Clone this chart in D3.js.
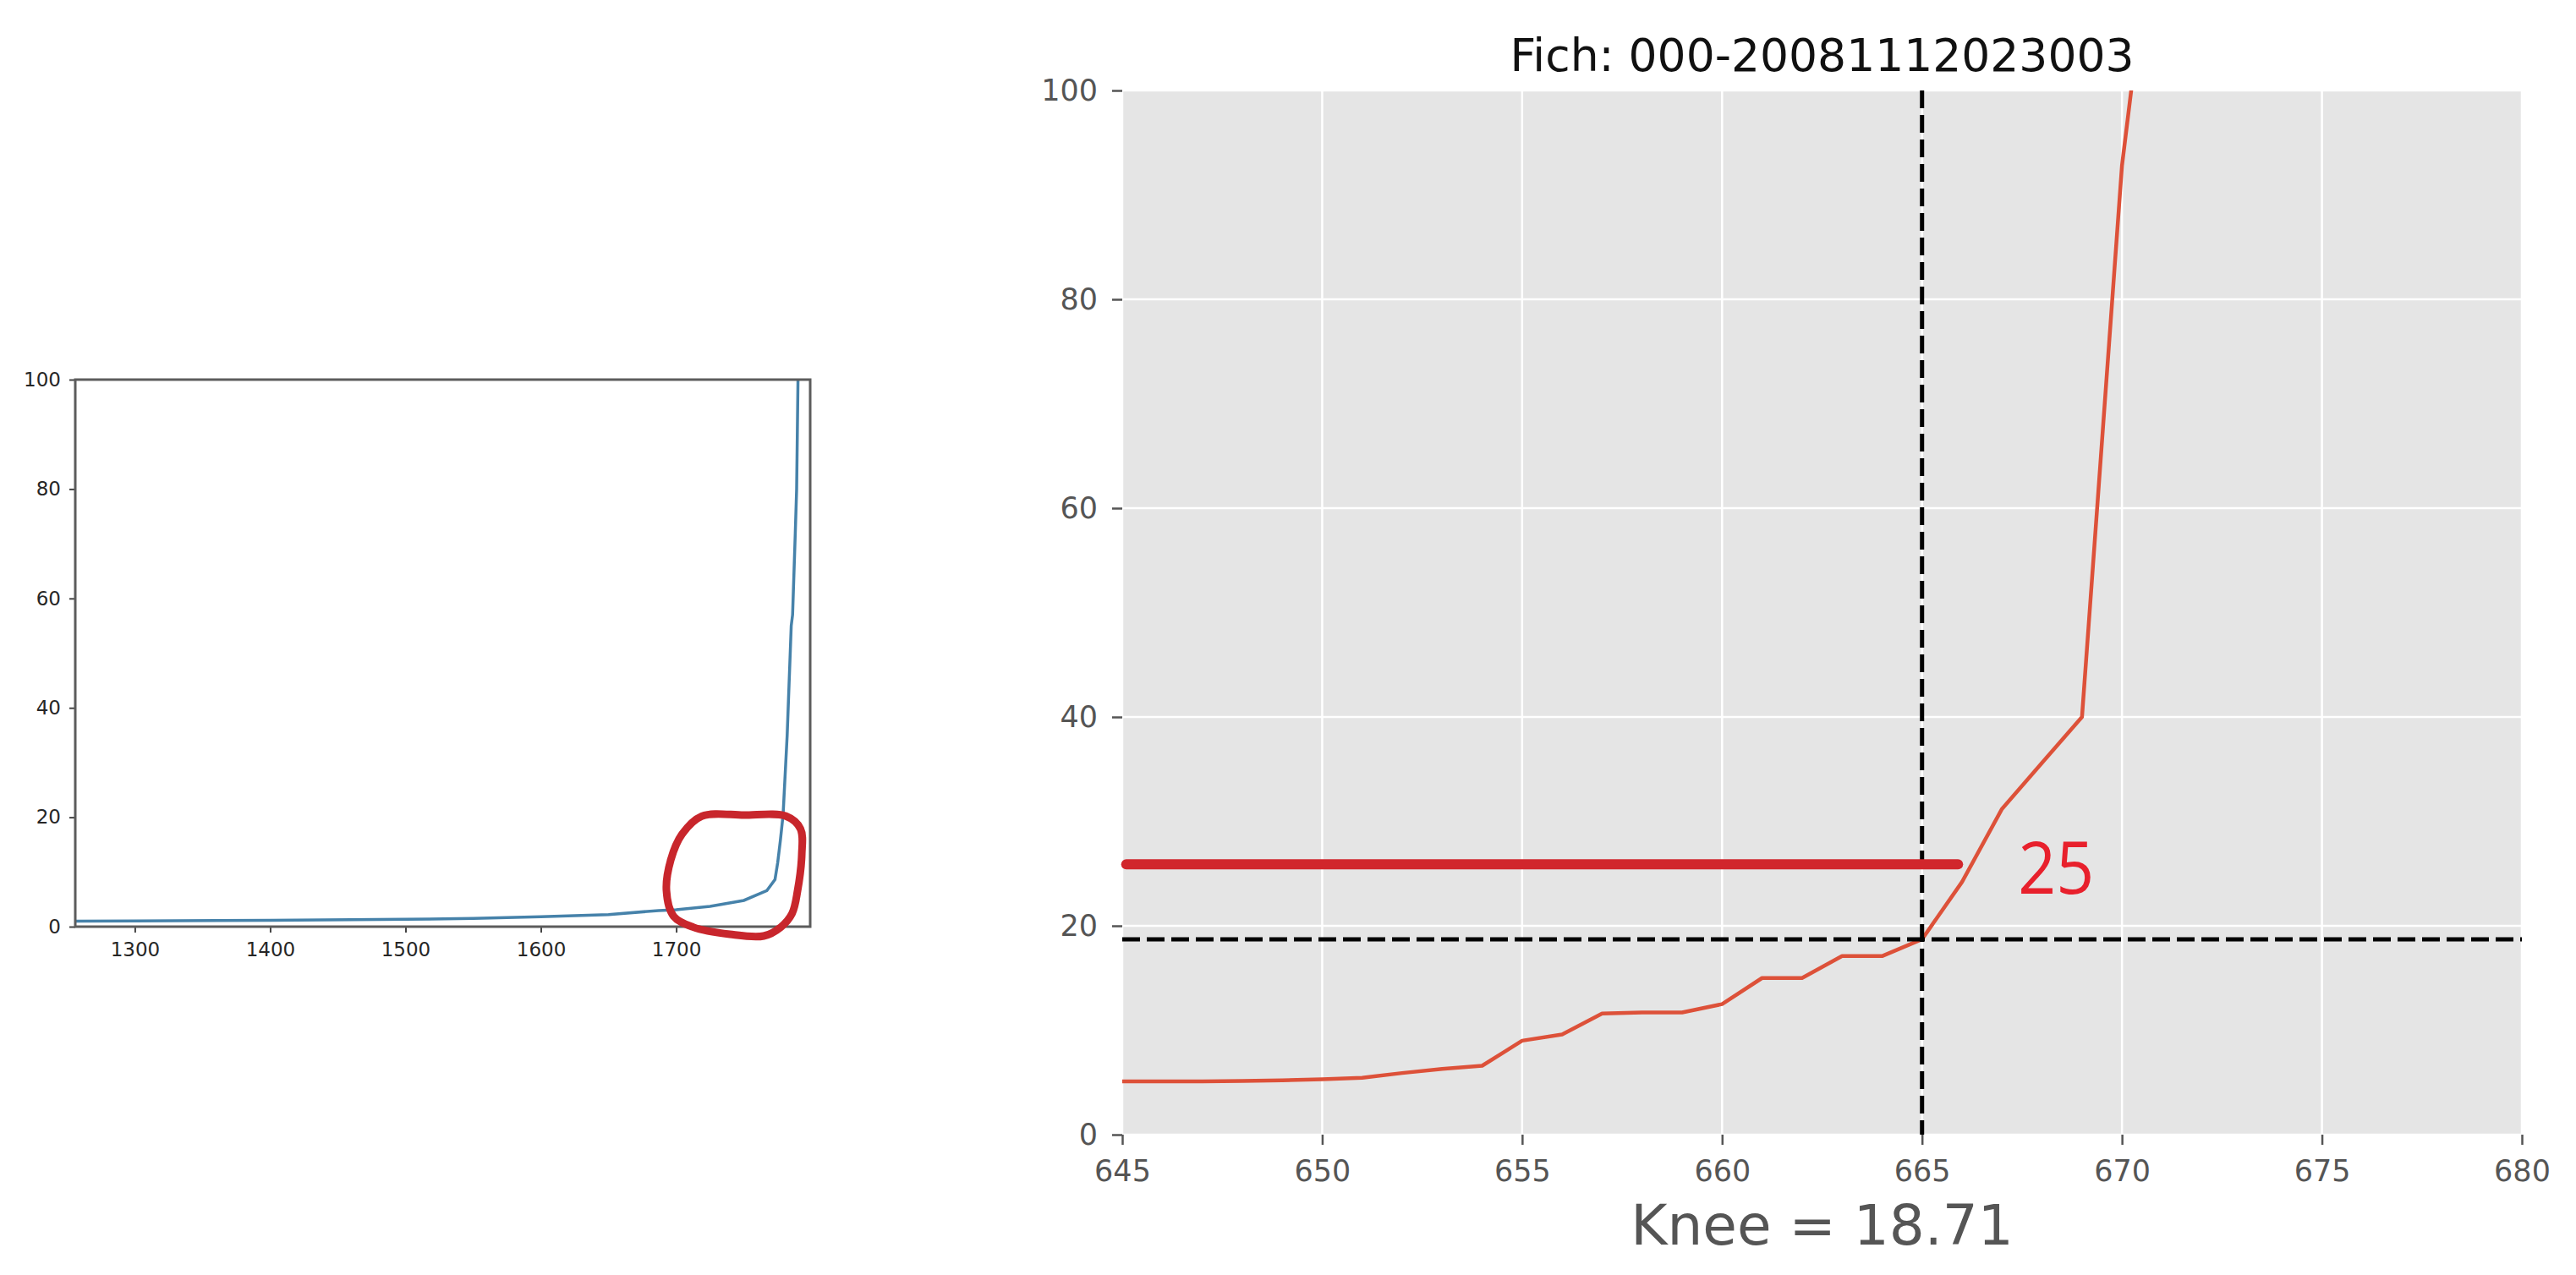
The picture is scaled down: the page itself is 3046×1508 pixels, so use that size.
<!DOCTYPE html>
<html>
<head>
<meta charset="utf-8">
<title>Knee - Fich 000-20081112023003</title>
<script src="https://d3js.org/d3.v7.min.js"></script>
<style>
  body { margin: 0; background: #fff; }
  text { font-family: "DejaVu Sans", sans-serif; }
</style>
</head>
<body>
<svg width="3046" height="1508"></svg>
<script>
// ---- left overview plot ----
var overviewX = [1256, 1300, 1400, 1500, 1550, 1600, 1650, 1687, 1700, 1725, 1750, 1767, 1773, 1775, 1777, 1779, 1782, 1785, 1786, 1788, 1789, 1790, 1790.5];
var overviewY = [1.0, 1.05, 1.15, 1.35, 1.5, 1.8, 2.2, 2.95, 3.1, 3.7, 4.8, 6.6, 8.6, 11.7, 15.8, 20.5, 35, 55, 57, 72, 80, 100, 115];
var overviewXTicks = [1300, 1400, 1500, 1600, 1700];
var overviewYTicks = [0, 20, 40, 60, 80, 100];
// hand drawn red loop round the knee (data units)
var loopX = [1718.9, 1750, 1781.1, 1791.8, 1792.8, 1789.7, 1785.6, 1777.2, 1764.7, 1739.7, 1712.6, 1698.1, 1692.8, 1696, 1704.3];
var loopY = [20.2, 20.4, 20.2, 17.9, 13.3, 6.6, 2.4, -0.1, -1.7, -1.4, -0.1, 1.9, 6.6, 12.2, 16.9];

// ---- right zoomed plot ----
var zoomX = [645, 646, 647, 648, 649, 650, 651, 652, 653, 654, 655, 656, 657, 658, 659, 660, 661, 662, 663, 664, 665, 666, 667, 668, 669, 670, 671];
var zoomY = [5.1, 5.1, 5.1, 5.15, 5.2, 5.3, 5.45, 5.9, 6.3, 6.6, 9.0, 9.6, 11.6, 11.7, 11.7, 12.5, 15.0, 15.0, 17.1, 17.1, 18.71, 24.2, 31.2, 35.6, 40.0, 92.8, 124];
var zoomXTicks = [645, 650, 655, 660, 665, 670, 675, 680];
var zoomYTicks = [0, 20, 40, 60, 80, 100];
var kneeX = 665, kneeY = 18.71;
var markY = 25.9, markX0 = 645.1, markX1 = 665.9;
var markLabel = "25", markLabelX = 667.4, markLabelY = 23.1;
var title = "Fich: 000-20081112023003";

var svg = d3.select("svg");
var defs = svg.append("defs");

// ===== overview =====
var ox = d3.scaleLinear().domain([1256, 1799]).range([89, 958]);
var oy = d3.scaleLinear().domain([0, 100]).range([1096, 449]);

defs.append("clipPath").attr("id", "oclip")
  .append("rect").attr("x", 89).attr("y", 449).attr("width", 869).attr("height", 647);

var oxAxis = svg.append("g")
  .attr("transform", "translate(0,1096)")
  .call(d3.axisBottom(ox).tickValues(overviewXTicks).tickSize(7).tickPadding(12).tickFormat(d3.format("d")));
var oyAxis = svg.append("g")
  .attr("transform", "translate(89,0)")
  .call(d3.axisLeft(oy).tickValues(overviewYTicks).tickSize(7).tickPadding(10));
[oxAxis, oyAxis].forEach(function(a) {
  a.select(".domain").remove();
  a.selectAll("line").attr("stroke", "#444").attr("stroke-width", 2);
  a.selectAll("text").attr("fill", "#262626").style("font-size", "23px");
});

var oLine = d3.line()
  .x(function(d, i) { return ox(overviewX[i]); })
  .y(function(d) { return oy(d); });
svg.append("path")
  .attr("clip-path", "url(#oclip)")
  .attr("d", oLine(overviewY))
  .attr("fill", "none")
  .attr("stroke", "#4682aa")
  .attr("stroke-width", 3.5);

svg.append("rect")
  .attr("x", 89).attr("y", 449).attr("width", 869).attr("height", 647)
  .attr("fill", "none").attr("stroke", "#5c5c5c").attr("stroke-width", 3);

var loop = d3.line()
  .x(function(d, i) { return ox(loopX[i]); })
  .y(function(d) { return oy(d); })
  .curve(d3.curveCatmullRomClosed);
svg.append("path")
  .attr("d", loop(loopY))
  .attr("fill", "none")
  .attr("stroke", "#c8262c")
  .attr("stroke-width", 9)
  .attr("stroke-linejoin", "round");

// ===== zoomed knee plot =====
var pL = 1327, pR = 2982, pT = 107, pB = 1342;
var x = d3.scaleLinear().domain([645, 680]).range([pL, pR]);
var y = d3.scaleLinear().domain([0, 100]).range([pB, pT]);

svg.append("rect")
  .attr("x", pL).attr("y", pT).attr("width", pR - pL).attr("height", pB - pT)
  .attr("fill", "#e5e5e5");

svg.append("g").selectAll("line")
  .data(zoomXTicks).enter().append("line")
  .attr("x1", function(d) { return x(d); }).attr("x2", function(d) { return x(d); })
  .attr("y1", pT).attr("y2", pB)
  .attr("stroke", "#fff").attr("stroke-width", 2.5);
svg.append("g").selectAll("line")
  .data(zoomYTicks).enter().append("line")
  .attr("y1", function(d) { return y(d); }).attr("y2", function(d) { return y(d); })
  .attr("x1", pL).attr("x2", pR)
  .attr("stroke", "#fff").attr("stroke-width", 2.5);

var xAxis = svg.append("g")
  .attr("transform", "translate(0," + pB + ")")
  .call(d3.axisBottom(x).tickValues(zoomXTicks).tickSize(12).tickPadding(18));
var yAxis = svg.append("g")
  .attr("transform", "translate(" + pL + ",0)")
  .call(d3.axisLeft(y).tickValues(zoomYTicks).tickSize(12).tickPadding(17));
[xAxis, yAxis].forEach(function(a) {
  a.select(".domain").remove();
  a.selectAll("line").attr("stroke", "#555").attr("stroke-width", 2.5);
  a.selectAll("text").attr("fill", "#555").style("font-size", "35px");
});

defs.append("clipPath").attr("id", "zclip")
  .append("rect").attr("x", pL).attr("y", pT).attr("width", pR - pL).attr("height", pB - pT);

var zLine = d3.line()
  .x(function(d, i) { return x(zoomX[i]); })
  .y(function(d) { return y(d); });
svg.append("path")
  .attr("clip-path", "url(#zclip)")
  .attr("d", zLine(zoomY))
  .attr("fill", "none")
  .attr("stroke", "#dd5139")
  .attr("stroke-width", 4.5)
  .attr("stroke-linejoin", "round");

// knee lines
svg.append("line")
  .attr("x1", x(kneeX)).attr("x2", x(kneeX)).attr("y1", pT).attr("y2", pB)
  .attr("stroke", "#000").attr("stroke-width", 5).attr("stroke-dasharray", "21,8");
svg.append("line")
  .attr("x1", pL).attr("x2", pR).attr("y1", y(kneeY)).attr("y2", y(kneeY))
  .attr("stroke", "#000").attr("stroke-width", 5).attr("stroke-dasharray", "21,8");

// red mark and label
svg.append("line")
  .attr("x1", x(markX0)).attr("x2", x(markX1)).attr("y1", y(markY)).attr("y2", y(markY))
  .attr("stroke", "#d1262c").attr("stroke-width", 12).attr("stroke-linecap", "round");
svg.append("text")
  .attr("x", x(markLabelX)).attr("y", y(markLabelY))
  .attr("fill", "#e8202c")
  .attr("textLength", 90).attr("lengthAdjust", "spacingAndGlyphs")
  .style("font-family", "'Open Sans', sans-serif")
  .style("font-size", "86px")
  .text(markLabel);

// title and knee caption
svg.append("text")
  .attr("x", (pL + pR) / 2).attr("y", 84)
  .attr("text-anchor", "middle").attr("fill", "#111")
  .style("font-size", "53.5px")
  .text(title);
svg.append("text")
  .attr("x", (pL + pR) / 2).attr("y", 1472)
  .attr("text-anchor", "middle").attr("fill", "#555")
  .style("font-size", "66px")
  .text("Knee = " + kneeY.toFixed(2));
</script>
</body>
</html>
